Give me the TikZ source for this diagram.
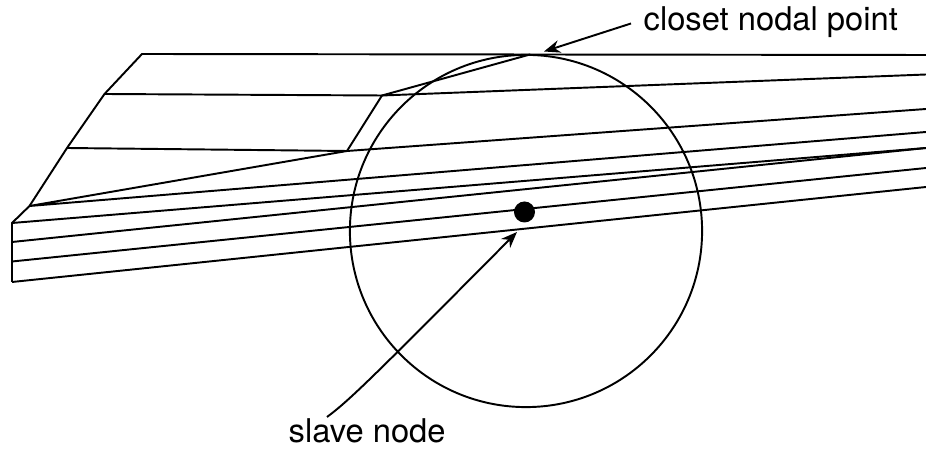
\documentclass[tikz,border=0pt]{standalone}
\usepackage{fontspec}
\setmainfont{TeX Gyre Heros}
\usetikzlibrary{arrows.meta}
\begin{document}
\begin{tikzpicture}[
  x=0.01cm, y=-0.01cm,
  edge/.style={line width=0.55pt, draw=black, line join=miter},
  pointer/.style={line width=0.55pt, draw=black, -{Stealth[length=4.6pt, width=3.6pt]}},
  clabel/.style={font=\fontsize{9.3}{11}\selectfont, color=black, inner sep=0pt, anchor=base west}
]
  \useasboundingbox (0,0) rectangle (926,449);

  % --- surface nodes, left side ---
  \coordinate (a1) at (142,54);
  \coordinate (a2) at (104.5,94);
  \coordinate (a3) at (67,148);
  \coordinate (a4) at (29.5,206);
  \coordinate (a5) at (12,223);
  \coordinate (a6) at (12,242);
  \coordinate (a7) at (12,261.5);
  \coordinate (a8) at (12,282);

  % --- inner nodes ---
  \coordinate (b2) at (382,95.5);
  \coordinate (b3) at (347,151);
  \coordinate (top) at (530,54.5);

  % --- right side ---
  \coordinate (r1) at (926,55);
  \coordinate (r2) at (926,74.5);
  \coordinate (r3) at (926,109);
  \coordinate (r4) at (926,132);
  \coordinate (r5) at (926,148);
  \coordinate (r7) at (926,168);
  \coordinate (r8) at (926,187);

  \draw[edge] (r1) -- (a1) -- (a2) -- (a3) -- (a4) -- (a5) -- (a6) -- (a7) -- (a8);
  \draw[edge] (a2) -- (b2) -- (r2);
  \draw[edge] (a3) -- (b3) -- (r3);
  \draw[edge] (top) -- (b2) -- (b3) -- (a4) -- (r4);
  \draw[edge] (a5) -- (r5);
  \draw[edge] (a6) -- (r5);
  \draw[edge] (a7) -- (r7);
  \draw[edge] (a8) -- (r8);

  % --- search circle and slave node ---
  \node[circle, draw=black, line width=0.55pt, inner sep=0pt, minimum size=3.52cm] (zone) at (526,231) {};
  \node[circle, fill=black, inner sep=0pt, minimum size=0.21cm] (slave) at (524.5,212) {};

  % --- labels ---
  \node[clabel] (lclose) at (643,31) {closet nodal point};
  \node[clabel] (lslave) at (288,443) {slave node};

  \coordinate (c1) at (631,23.5);
  \coordinate (c2) at (544,51.5);
  \coordinate (s1) at (327,417);
  \coordinate (s2) at (517,232);

  \draw[pointer] (c1) -- (c2);
  \draw[pointer] (s1) .. controls (350,400) and (375,375) .. (s2);
\end{tikzpicture}
\end{document}
